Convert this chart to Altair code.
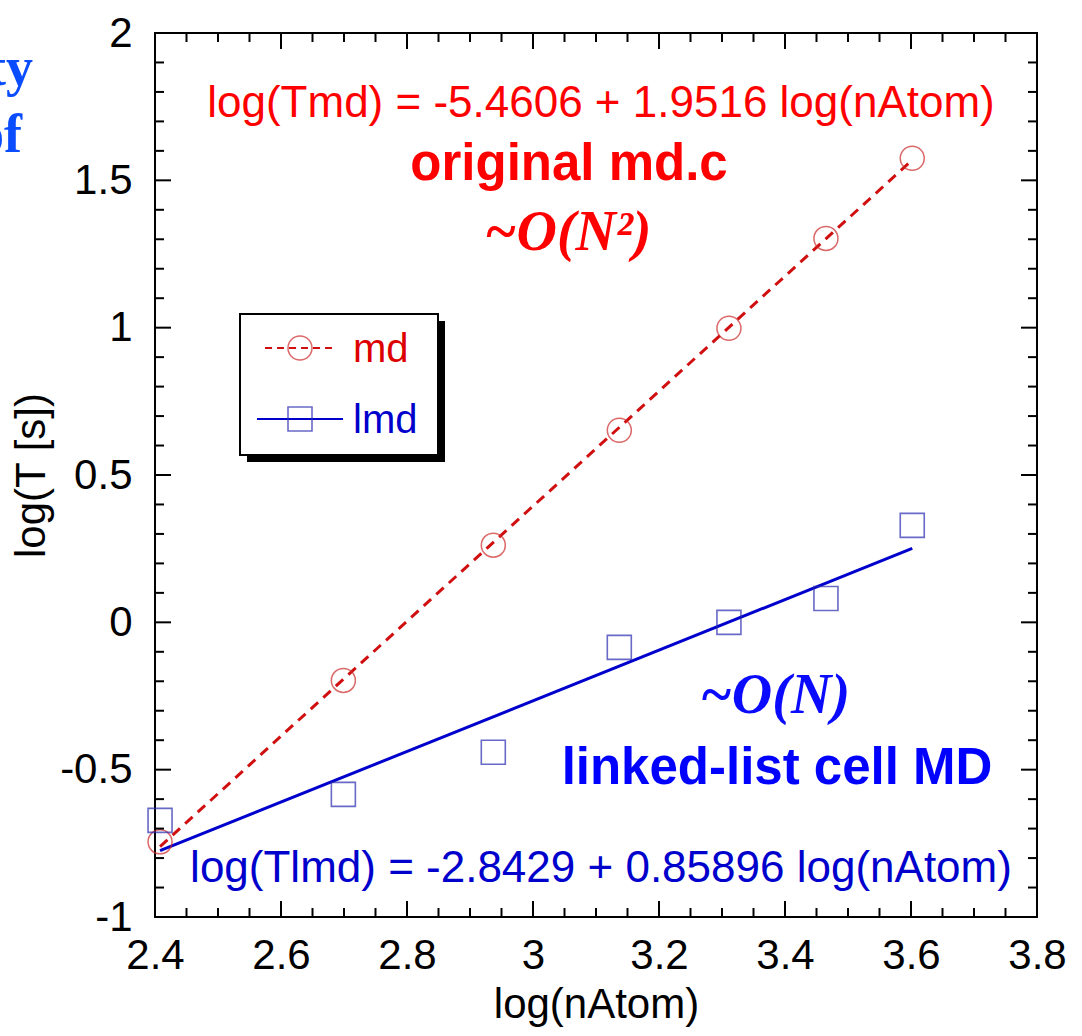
import altair as alt
import pandas as pd

# ---- data ----
log_natom = [2.408, 2.699, 2.937, 3.137, 3.311, 3.465, 3.602]
md_logT = [-0.745, -0.197, 0.262, 0.652, 0.998, 1.303, 1.575]
lmd_logT = [-0.672, -0.584, -0.441, -0.085, 0.0, 0.081, 0.329]

fit_x = [2.408, 3.602]
md_fit = [-0.761, 1.569]
lmd_fit = [-0.775, 0.251]

x_major = [2.4, 2.6, 2.8, 3.0, 3.2, 3.4, 3.6, 3.8]
x_minor = [2.45, 2.5, 2.55, 2.65, 2.7, 2.75, 2.85, 2.9, 2.95, 3.05, 3.1, 3.15,
           3.25, 3.3, 3.35, 3.45, 3.5, 3.55, 3.65, 3.7, 3.75]
y_major = [-1.0, -0.5, 0.0, 0.5, 1.0, 1.5, 2.0]
y_minor = [-0.9, -0.8, -0.7, -0.6, -0.4, -0.3, -0.2, -0.1, 0.1, 0.2, 0.3, 0.4,
           0.6, 0.7, 0.8, 0.9, 1.1, 1.2, 1.3, 1.4, 1.6, 1.7, 1.8, 1.9]

eq_md = "log(Tmd) = -5.4606 + 1.9516 log(nAtom)"
eq_lmd = "log(Tlmd) = -2.8429 + 0.85896 log(nAtom)"
label_md = "original md.c"
order_md = "~O(N²)"
order_lmd = "~O(N)"
label_lmd = "linked-list cell MD"
legend_names = ["md", "lmd"]
side_text = ["ty", "of"]

W, H = 882, 884
SANS = "Liberation Sans"
SERIF = "Liberation Serif"

xs = alt.Scale(domain=[2.4, 3.8], nice=False, zero=False)
ys = alt.Scale(domain=[-1, 2], nice=False, zero=False)

df_md = pd.DataFrame({"x": log_natom, "y": md_logT})
df_lmd = pd.DataFrame({"x": log_natom, "y": lmd_logT})
df_fit = pd.DataFrame({"x": fit_x, "md": md_fit, "lmd": lmd_fit})
one = pd.DataFrame({"k": [0]})

x_axis = alt.Axis(values=x_major, labelExpr="'' + datum.value", ticks=False, tickSize=0,
                  domain=False, grid=False, labelFontSize=42, labelFont=SANS,
                  labelColor="black", labelPadding=18, labelFlush=False,
                  title="log(nAtom)", titleFontSize=42, titleFont=SANS,
                  titleFontWeight="normal", titleColor="black", titlePadding=8)
y_axis = alt.Axis(values=y_major, labelExpr="'' + datum.value", ticks=False, tickSize=0,
                  domain=False, grid=False, labelFontSize=42, labelFont=SANS,
                  labelColor="black", labelPadding=23, labelFlush=False,
                  title="log(T [s])", titleFontSize=42, titleFont=SANS,
                  titleFontWeight="normal", titleColor="black", titlePadding=6)


def X(f):
    return alt.X(f, scale=xs, axis=x_axis)


def Y(f):
    return alt.Y(f, scale=ys, axis=y_axis)


# fit lines
md_line = alt.Chart(df_fit).mark_line(color="#d01010", strokeWidth=3, strokeDash=[10, 7]).encode(
    x=X("x:Q"), y=Y("md:Q"))
lmd_line = alt.Chart(df_fit).mark_line(color="#0000cc", strokeWidth=3).encode(
    x=X("x:Q"), y=Y("lmd:Q"))

md_pts = alt.Chart(df_md).mark_point(shape="circle", size=576, filled=False,
                                     stroke="#cc2a2a", strokeWidth=1.5).encode(
    x=X("x:Q"), y=Y("y:Q"))
lmd_pts = alt.Chart(df_lmd).mark_point(shape="square", size=576, filled=False,
                                       stroke="#2a2ab0", strokeWidth=1.6).encode(
    x=X("x:Q"), y=Y("y:Q"))


def xticks(vals, length):
    d = pd.DataFrame({"x": vals})
    b = alt.Chart(d).mark_rule(color="black", strokeWidth=2).encode(
        x=X("x:Q"), y=alt.value(H), y2=alt.value(H - length))
    t = alt.Chart(d).mark_rule(color="black", strokeWidth=2).encode(
        x=X("x:Q"), y=alt.value(0), y2=alt.value(length))
    return [b, t]


def yticks(vals, length):
    d = pd.DataFrame({"y": vals})
    l = alt.Chart(d).mark_rule(color="black", strokeWidth=2).encode(
        y=Y("y:Q"), x=alt.value(0), x2=alt.value(length))
    r = alt.Chart(d).mark_rule(color="black", strokeWidth=2).encode(
        y=Y("y:Q"), x=alt.value(W), x2=alt.value(W - length))
    return [l, r]


ticks = xticks(x_major, 16) + xticks(x_minor, 9) + yticks(y_major, 16) + yticks(y_minor, 9)


def txt(s, x, y, size, color, font=SANS, weight="normal", style="normal", align="center"):
    return alt.Chart(pd.DataFrame({"t": [s]})).mark_text(
        font=font, fontSize=size, fontWeight=weight, fontStyle=style, color=color,
        align=align, baseline="alphabetic").encode(
        text="t:N", x=alt.value(x), y=alt.value(y))


texts = [
    txt(eq_md, 446, 84, 44, "#ff0000"),
    txt(label_md, 414, 147, 51, "#ff0000", weight="bold"),
    txt(order_md, 413, 217, 56, "#ff0000", font=SERIF, weight="bold", style="italic"),
    txt(order_lmd, 620, 680, 56, "#0a0aff", font=SERIF, weight="bold", style="italic"),
    txt(label_lmd, 622, 751, 51, "#0000ff", weight="bold"),
    txt(eq_lmd, 446, 849, 44, "#0000cc"),
    txt(side_text[0], -122, 52, 54, "#0a4dff", font=SERIF, weight="bold", align="right"),
    txt(side_text[1], -133, 119, 54, "#0a4dff", font=SERIF, weight="bold", align="right"),
]

# legend box with shadow
shadow = alt.Chart(one).mark_rect(fill="black").encode(
    x=alt.value(92), x2=alt.value(290), y=alt.value(288), y2=alt.value(429))
box = alt.Chart(one).mark_rect(fill="white", stroke="black", strokeWidth=2).encode(
    x=alt.value(85), x2=alt.value(283), y=alt.value(281), y2=alt.value(422))
leg_md_line = alt.Chart(one).mark_rule(color="#d01010", strokeWidth=2, strokeDash=[7, 5]).encode(
    x=alt.value(110), x2=alt.value(180), y=alt.value(315))
leg_md_pt = alt.Chart(one).mark_point(shape="circle", size=576, filled=False,
                                      stroke="#cc2a2a", strokeWidth=1.5).encode(
    x=alt.value(145), y=alt.value(315))
leg_lmd_line = alt.Chart(one).mark_rule(color="#0000cc", strokeWidth=2).encode(
    x=alt.value(102), x2=alt.value(188), y=alt.value(386))
leg_lmd_pt = alt.Chart(one).mark_point(shape="square", size=576, filled=False,
                                       stroke="#2a2ab0", strokeWidth=1.6).encode(
    x=alt.value(145), y=alt.value(386))
leg_texts = [
    alt.Chart(pd.DataFrame({"t": [legend_names[0]]})).mark_text(
        font=SANS, fontSize=40, color="#dd0000", align="left", baseline="middle").encode(
        text="t:N", x=alt.value(198), y=alt.value(317)),
    alt.Chart(pd.DataFrame({"t": [legend_names[1]]})).mark_text(
        font=SANS, fontSize=40, color="#0000cc", align="left", baseline="middle").encode(
        text="t:N", x=alt.value(198), y=alt.value(388)),
]

chart = alt.layer(
    md_line, lmd_line, md_pts, lmd_pts, *ticks, *texts,
    shadow, box, leg_md_line, leg_md_pt, leg_lmd_line, leg_lmd_pt, *leg_texts
).properties(
    width=W, height=H,
    padding={"left": 155, "top": 33, "right": 45, "bottom": 119},
    autosize=alt.AutoSizeParams(type="none"),
    background="white",
).configure_view(stroke="black", strokeWidth=2)

chart.save("out.html", embed_options={"renderer": "svg", "actions": False})
